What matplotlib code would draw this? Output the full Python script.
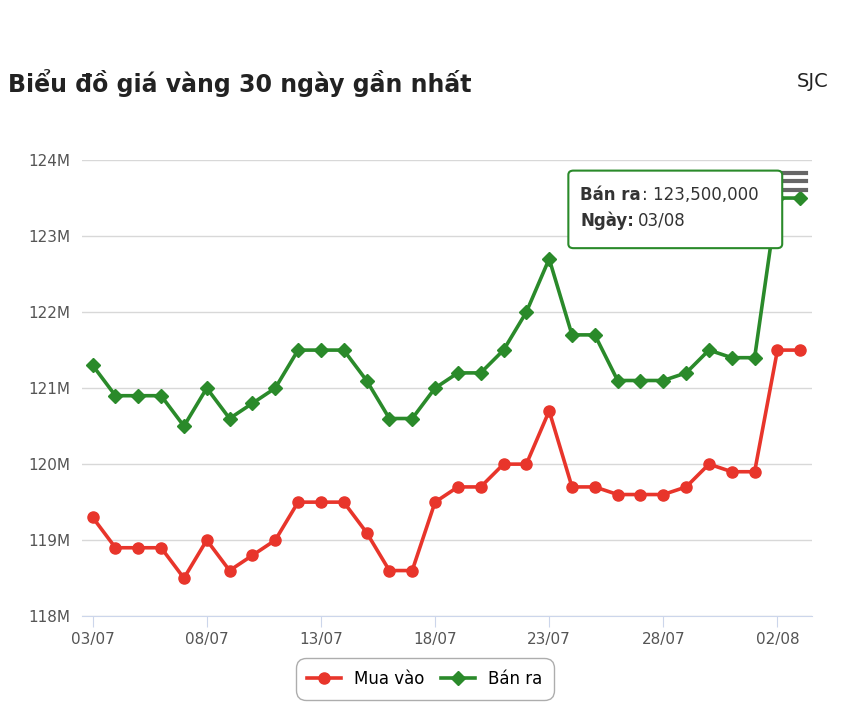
import numpy as np
import matplotlib.pyplot as plt
from matplotlib.patches import FancyBboxPatch

dates = ['03/07', '04/07', '05/07', '06/07', '07/07', '08/07', '09/07', '10/07', '11/07', '12/07',
         '13/07', '14/07', '15/07', '16/07', '17/07', '18/07', '19/07', '20/07', '21/07', '22/07',
         '23/07', '24/07', '25/07', '26/07', '27/07', '28/07', '29/07', '30/07', '31/07', '01/08',
         '02/08', '03/08']
ban_ra = [121.3, 120.9, 120.9, 120.9, 120.5, 121.0, 120.6, 120.8, 121.0, 121.5, 121.5, 121.5,
          121.1, 120.6, 120.6, 121.0, 121.2, 121.2, 121.5, 122.0, 122.7, 121.7, 121.7, 121.1,
          121.1, 121.1, 121.2, 121.5, 121.4, 121.4, 123.5, 123.5]
mua_vao = [119.3, 118.9, 118.9, 118.9, 118.5, 119.0, 118.6, 118.8, 119.0, 119.5, 119.5, 119.5,
           119.1, 118.6, 118.6, 119.5, 119.7, 119.7, 120.0, 120.0, 120.7, 119.7, 119.7, 119.6,
           119.6, 119.6, 119.7, 120.0, 119.9, 119.9, 121.5, 121.5]

RED = '#e8352b'
GREEN = '#2a8a2a'

fig = plt.figure(figsize=(8.42, 7.05), dpi=100)
ax = fig.add_axes([0.097, 0.126, 0.867, 0.647])
x = np.arange(len(dates))

ax.plot(x, mua_vao, color=RED, lw=2.6, marker='o', ms=8, zorder=3)
ax.plot(x, ban_ra, color=GREEN, lw=2.6, marker='D', ms=7, zorder=3)

ax.set_xlim(-0.48, 31.5)
ax.set_ylim(118, 124)
ax.set_yticks(range(118, 125))
ax.set_yticklabels([f'{v}M' for v in range(118, 125)], fontsize=11, color='#555555')
ax.set_xticks(x[::5])
ax.set_xticklabels(dates[::5], fontsize=11, color='#555555')
ax.grid(axis='y', color='#d8d8d8', lw=1)
for s in ['top', 'right', 'left']:
    ax.spines[s].set_visible(False)
ax.spines['bottom'].set_color('#ccd6eb')
ax.tick_params(axis='y', length=0, pad=8)
ax.tick_params(axis='x', color='#ccd6eb', length=8)

fig.text(0.01, 0.87, 'Biểu đồ giá vàng 30 ngày gần nhất', fontsize=17, fontweight='bold', color='#222222')
fig.text(0.984, 0.877, 'SJC', fontsize=14, color='#222222', ha='right')

# tooltip
tip = FancyBboxPatch((0.675, 0.648), 0.254, 0.11, transform=fig.transFigure,
                     boxstyle='round,pad=0,rounding_size=0.006', fc='white', ec=GREEN, lw=1.5, zorder=5)
fig.patches.append(tip)
fig.text(0.689, 0.716, 'Bán ra', fontsize=12, fontweight='bold', color='#333333', zorder=6)
fig.text(0.762, 0.716, ': 123,500,000', fontsize=12, color='#333333', zorder=6)
fig.text(0.689, 0.68, 'Ngày:', fontsize=12, fontweight='bold', color='#333333', zorder=6)
fig.text(0.757, 0.68, '03/08', fontsize=12, color='#333333', zorder=6)

# menu icon
for yy in [0.755, 0.743, 0.731]:
    fig.add_artist(plt.Line2D([0.93, 0.957], [yy, yy], color='#666666', lw=3))

# legend
leg = ax.legend(['Mua vào', 'Bán ra'], loc='upper center', bbox_to_anchor=(0.47, -0.085),
                ncol=2, frameon=True, fontsize=12, handlelength=2, columnspacing=1)
leg.get_frame().set_edgecolor('#999999')
leg.get_frame().set_boxstyle('round,pad=0.3,rounding_size=0.6')

fig.savefig('out.png', dpi=100)
